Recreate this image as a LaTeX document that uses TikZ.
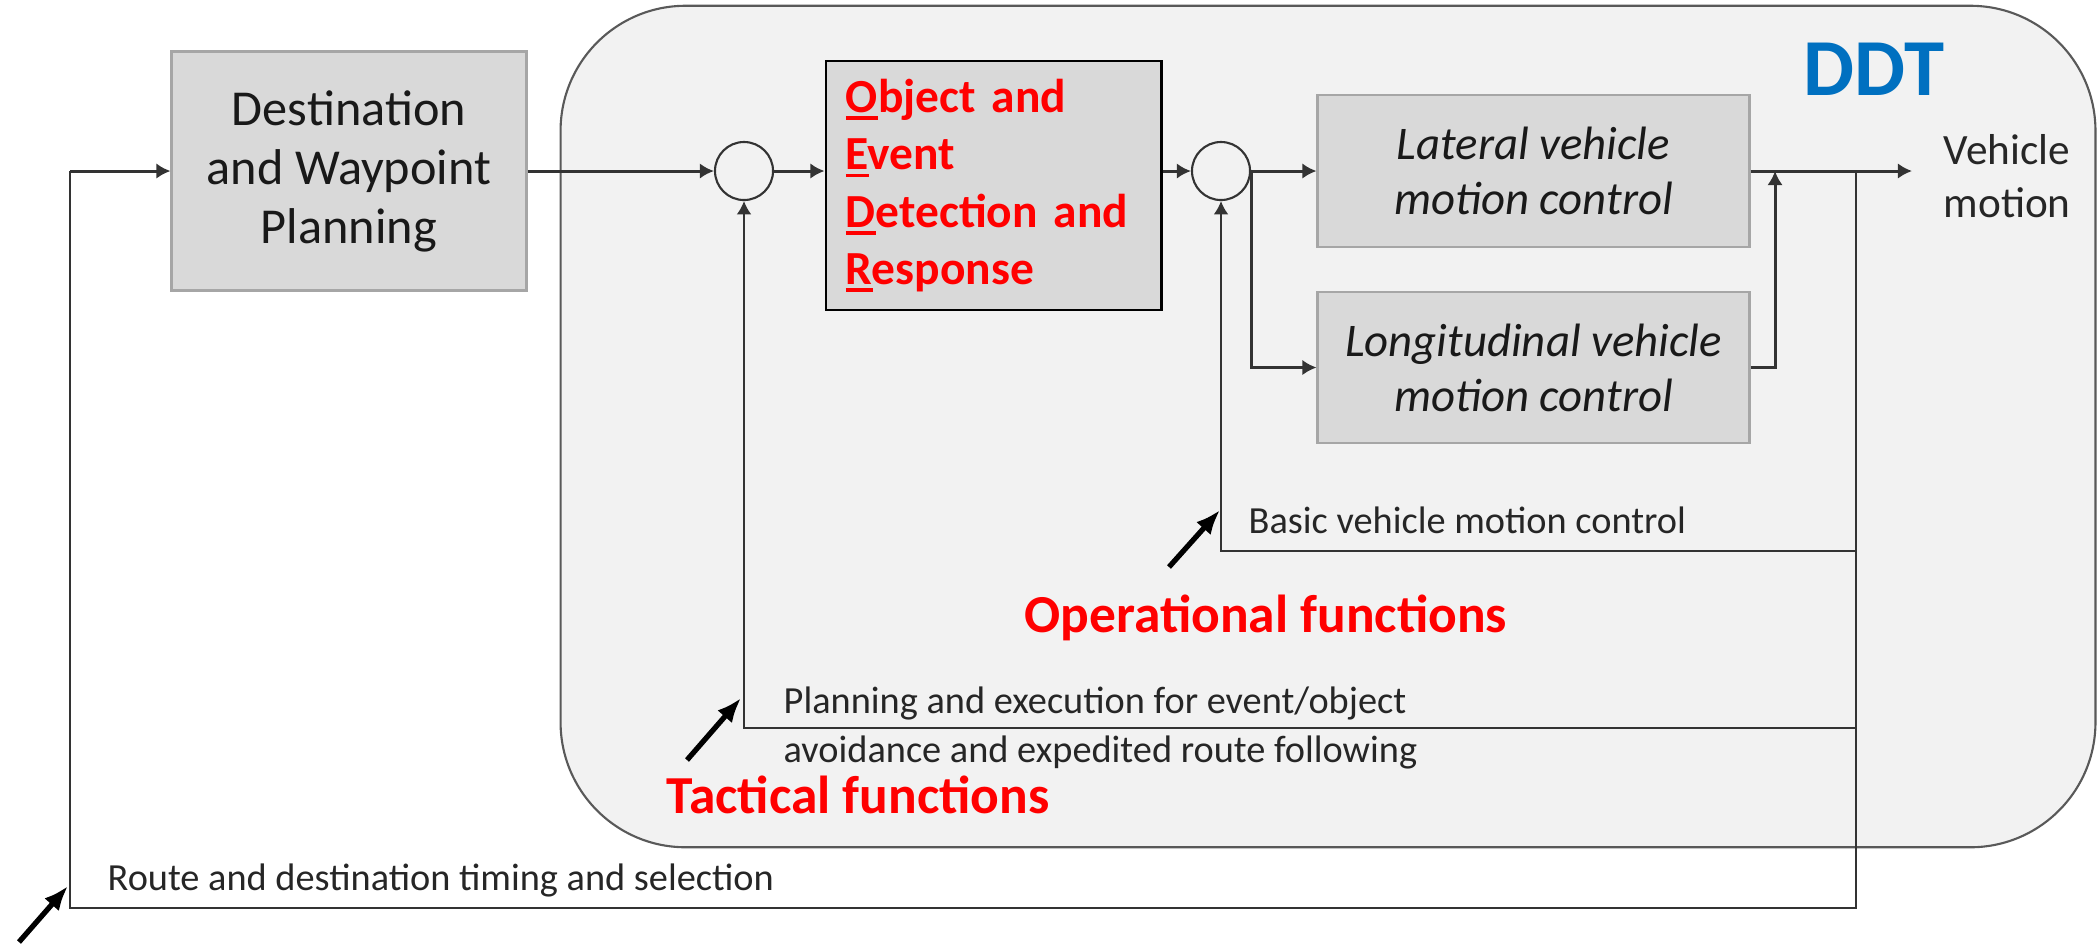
\documentclass[tikz,border=0pt]{standalone}
\usepackage{fontspec}
\setmainfont{Carlito}
\usetikzlibrary{arrows.meta}
\definecolor{ddtblue}{HTML}{0070C0}
\definecolor{boxfill}{HTML}{D9D9D9}
\definecolor{boxline}{HTML}{A6A6A6}
\definecolor{ddtfill}{HTML}{F2F2F2}
\newcommand\firstul[1]{\leavevmode\setbox0\hbox{#1}\rlap{\rule[-0.16em]{\wd0}{0.075em}}#1}
\begin{document}
\begin{tikzpicture}[x=0.01cm,y=-0.01cm,
  flow/.style={draw=black!80, line width=0.85pt, -{Latex[length=4pt,width=4.4pt]}},
  fbline/.style={draw=black!80, line width=0.45pt},
  fbarrow/.style={fbline, -{Latex[length=3.8pt,width=4.2pt]}},
  annot/.style={draw=black, line width=1.5pt, -{Latex[length=7pt,width=5.5pt]}},
  graybox/.style={draw=boxline, line width=0.8pt, fill=boxfill, inner sep=0pt, align=center},
  sumpt/.style={circle, draw=black!80, line width=0.6pt, fill=ddtfill, minimum size=0.58cm, inner sep=0pt},
  lbl/.style={font=\fontsize{10.9}{14}\selectfont, text=black!85, inner sep=0pt},
  redlbl/.style={font=\bfseries\fontsize{15.2}{17}\selectfont, text=red, inner sep=0pt}
]
\useasboundingbox[fill=white] (0,0) rectangle (2098,944);

% DDT container
\node[draw=black!65, line width=0.6pt, fill=ddtfill, rounded corners=1.25cm,
      minimum width=15.34cm, minimum height=8.41cm, inner sep=0pt] (ddtbox) at (1328,426.5) {};
\node[anchor=base west, font=\bfseries\fontsize{23}{23}\selectfont, text=ddtblue, inner sep=0pt] (ddtlbl) at (1803,95) {DDT};

% blocks
\node[graybox, minimum width=3.54cm, minimum height=2.39cm,
      font=\fontsize{14.3}{16.8}\selectfont, text=black!90] (dest) at (349,171) {Destination\\and Waypoint\\Planning};
\node[draw=black, line width=0.8pt, fill=boxfill, text width=2.95cm, inner xsep=0.2cm, inner ysep=0pt,
      minimum height=2.49cm, align=left, font=\bfseries\fontsize{13.5}{16.3}\selectfont, text=red] (oedr) at (993.5,185.5)
      {\firstul{O}bject and\\\firstul{E}vent\\\firstul{D}etection and\\\firstul{R}esponse};
\node[graybox, minimum width=4.31cm, minimum height=1.52cm,
      font=\itshape\fontsize{13.3}{15.6}\selectfont, text=black!90] (lat) at (1533.5,171) {Lateral vehicle\\motion control};
\node[graybox, minimum width=4.31cm, minimum height=1.51cm,
      font=\itshape\fontsize{13.3}{15.6}\selectfont, text=black!90] (long) at (1533.5,367.5) {Longitudinal vehicle\\motion control};

\node[sumpt] (c1) at (744,171) {};
\node[sumpt] (c2) at (1221,171) {};

% output text
\node[anchor=west, align=left, font=\fontsize{12.3}{15}\selectfont, text=black!85, inner sep=0pt] (vm) at (1943,176) {Vehicle\\motion};

% labels
\node[lbl, anchor=base west] (basic) at (1248,533) {Basic vehicle motion control};
\node[lbl, anchor=west, align=left] (plan) at (783,728) {Planning and execution for event/object\\avoidance and expedited route following};
\node[lbl, anchor=base west] (route) at (107,890) {Route and destination timing and selection};
\node[redlbl, anchor=base west] (opf) at (1024,632) {Operational functions};
\node[redlbl, anchor=base west] (tacf) at (666,813) {Tactical functions};

% coordinates
\coordinate (j0) at (1856,171);
\coordinate (jop) at (1856,551);
\coordinate (jtac) at (1856,728);
\coordinate (jbot) at (1856,908);
\coordinate (inb) at (70,908);
\coordinate (in) at (70,171);
\coordinate (out) at (1912,171);
\coordinate (mrg) at (1775,171);

% main flow
\draw[flow] (in) -- (dest);
\draw[flow] (dest) -- (c1);
\draw[flow] (c1) -- (c1 -| oedr.west);
\draw[flow] (c2 -| oedr.east) -- (c2);
\draw[flow] (c2) -- (lat);
\draw[flow] (c2.east) |- (long);
\draw[flow] (long) -| (mrg);
\draw[flow] (lat) -- (out);

% feedback loops
\draw[fbline] (j0) -- (jbot) -- (inb) -- (in);
\draw[fbarrow] (jtac) -| (c1);
\draw[fbarrow] (jop) -| (c2);

% annotation arrows
\coordinate (a1s) at (1169,567); \coordinate (a1e) at (1220,510);
\coordinate (a2s) at (687,760);  \coordinate (a2e) at (741,698);
\coordinate (a3s) at (19,942);   \coordinate (a3e) at (68,886);
\draw[annot] (a1s) -- (a1e);
\draw[annot] (a2s) -- (a2e);
\draw[annot] (a3s) -- (a3e);
\end{tikzpicture}
\end{document}
